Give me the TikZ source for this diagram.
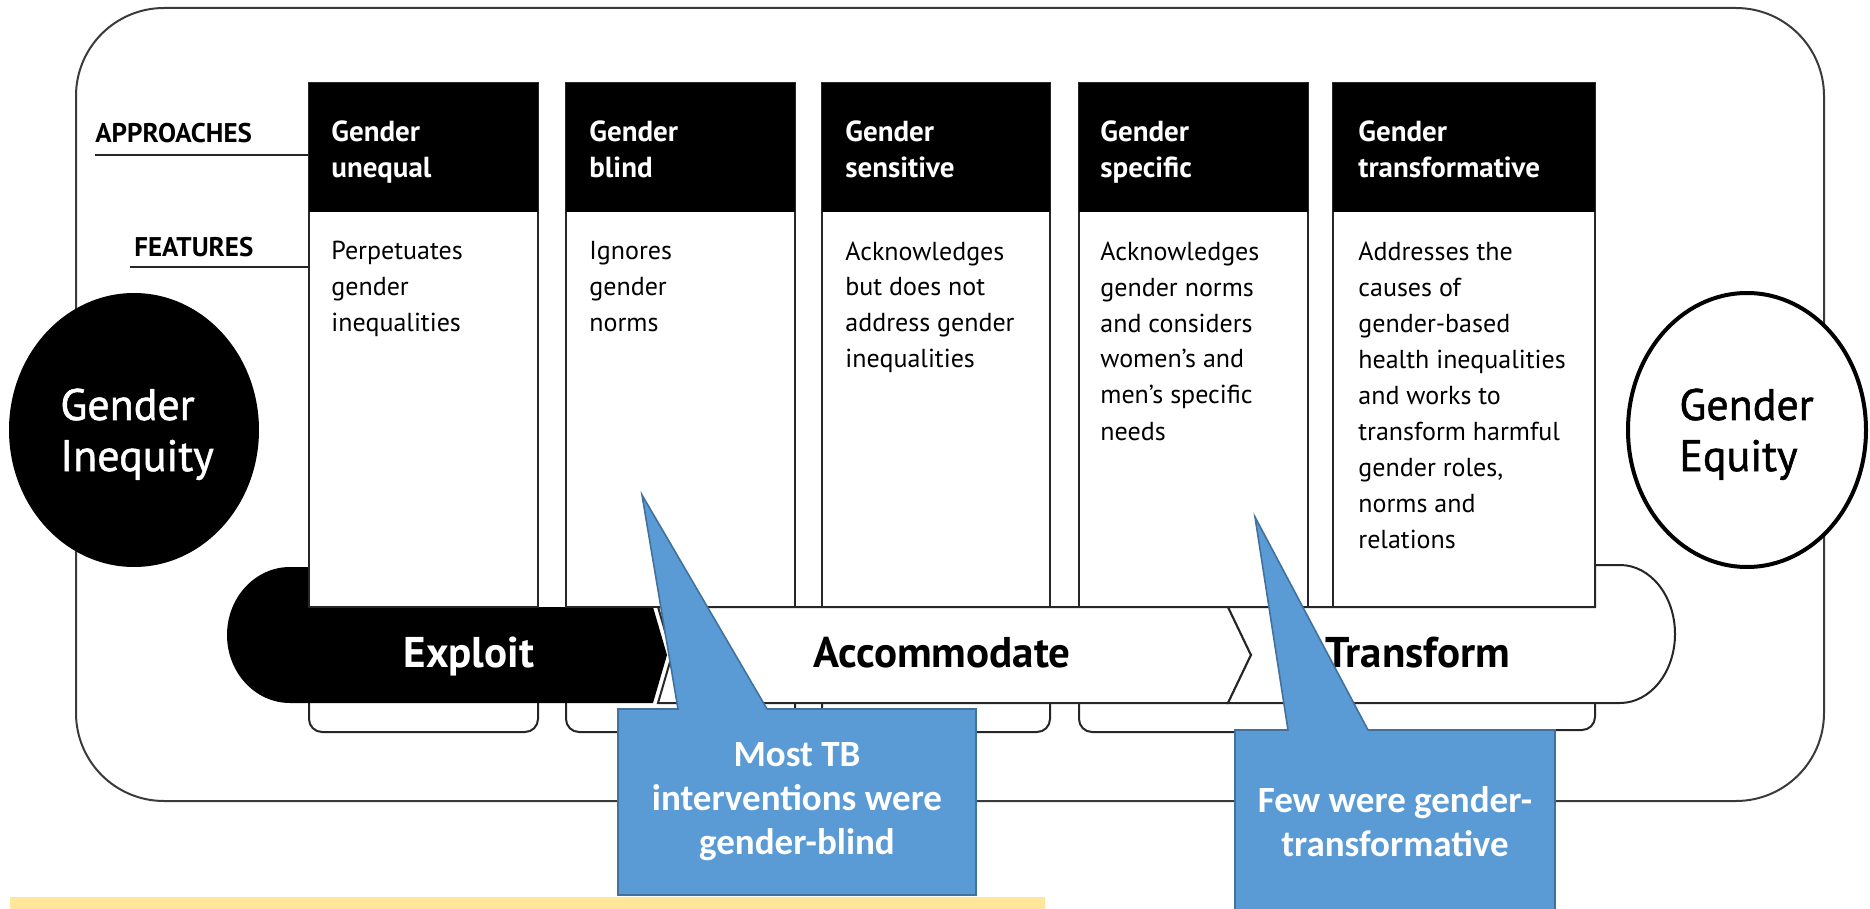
\documentclass[tikz,border=0pt]{standalone}
\usepackage{fontspec}
\setmainfont{PT Sans}
\newfontfamily\calloutfont{Carlito}
\newfontfamily\polefont[BoldFont={PT Sans}, BoldFeatures={FakeBold=1.2}]{PT Sans}
\usepackage{xcolor}
\usetikzlibrary{positioning}

\definecolor{calloutblue}{HTML}{5B9BD5}
\definecolor{calloutedge}{HTML}{41719C}
\definecolor{noteyellow}{HTML}{FFE699}
\definecolor{framegray}{HTML}{3A3A3A}

\begin{document}
\begin{tikzpicture}[x=0.5pt,y=-0.5pt]
  % multi-line nodes sit on the baseline of their last line
  \tikzset{headtext/.style={anchor=base west, align=left, inner sep=0pt,
                            text=white, font=\fontsize{14.5}{18}\selectfont\bfseries},
           bodytext/.style={anchor=base west, align=left, inner sep=0pt,
                            font=\fontsize{13}{18}\selectfont},
           sidelabel/.style={anchor=base west, inner sep=0pt,
                             font=\fontsize{13.5}{16}\selectfont\bfseries},
           bandtext/.style={anchor=base, inner sep=0pt,
                            font=\fontsize{21.5}{24}\selectfont\bfseries},
           poletext/.style={anchor=base west, align=left, inner sep=0pt,
                            font=\polefont\fontsize{22}{25.5}\selectfont\bfseries},
           callouttext/.style={align=center, inner sep=0pt, text=white,
                               font=\calloutfont\fontsize{18.5}{22}\selectfont\bfseries},
           colline/.style={line width=1pt, draw=black!85},
           tabline/.style={line width=1pt, draw=black!85, rounded corners=6.5pt},
           callout/.style={fill=calloutblue, draw=calloutedge, line width=0.8pt}}
  \useasboundingbox (0,0) rectangle (1870,909);

% frame
\draw[framegray, line width=1pt, rounded corners=44pt] (76,8) rectangle (1824,801);

% poles
\fill[black] (134,430) ellipse [x radius=125, y radius=137];
\node[poletext, text=white] (inequity) at (60,471) {Gender\\Inequity};
\draw[fill=white, line width=2pt] (1747,430) ellipse [x radius=119, y radius=137];
\node[poletext] (equity) at (1679,471) {Gender\\Equity};

% side labels
\node[sidelabel] (appr) at (95,143) {APPROACHES};
\node[sidelabel] (feat) at (134,257) {FEATURES};
\coordinate (c1a) at (309,155);
\coordinate (c1b) at (309,267);
\draw[colline] ([yshift=-6pt]appr.base west) -- (c1a);
\draw[colline] ([xshift=-2pt,yshift=-5pt]feat.base west) -- (c1b);

% tabs under the band
\draw[tabline] (309,650) -- (309,732) -- (538,732) -- (538,650);
\draw[tabline] (566,650) -- (566,732) -- (795,732) -- (795,650);
\draw[tabline] (822,650) -- (822,732) -- (1050,732) -- (1050,650);
\draw[tabline] (1079,650) -- (1079,732) -- (1308,732) -- (1308,650);
\draw[tabline] (1333,650) -- (1333,730) -- (1595,730) -- (1595,650);

% band: exploit
\fill[black] (310,567) -- (290,567) arc[start angle=270, end angle=90, x radius=63, y radius=68]
  -- (653,703) -- (667,655) -- (653,607) -- (310,607) -- cycle;
% band: accommodate
\draw[colline, fill=white] (658,607) -- (672,655) -- (658,703) -- (1228,703) -- (1251,655)
  -- (1228,607) -- cycle;
% band: transform
\draw[colline, fill=white] (1228,607) -- (1251,655) -- (1228,703) -- (1620,703)
  arc[start angle=90, end angle=-90, x radius=55, y radius=69] -- (1595,565) -- (1595,607) -- cycle;

% column 1
\draw[colline, fill=white] (309,83) rectangle (538,607);
\fill[black] (309,83) rectangle (538,212);
\node[headtext] (h1) at (331,178) {Gender\\unequal};
\node[bodytext] (f1) at (331,332) {Perpetuates\\gender\\inequalities};

% column 2
\draw[colline, fill=white] (566,83) rectangle (795,607);
\fill[black] (566,83) rectangle (795,212);
\node[headtext] (h2) at (589,178) {Gender\\blind};
\node[bodytext] (f2) at (589,332) {Ignores\\gender\\norms};

% column 3
\draw[colline, fill=white] (822,83) rectangle (1050,607);
\fill[black] (822,83) rectangle (1050,212);
\node[headtext] (h3) at (845,178) {Gender\\sensitive};
\node[bodytext] (f3) at (845,368) {Acknowledges\\but does not\\address gender\\inequalities};

% column 4
\draw[colline, fill=white] (1079,83) rectangle (1308,607);
\fill[black] (1079,83) rectangle (1308,212);
\node[headtext] (h4) at (1100,178) {Gender\\specific};
\node[bodytext] (f4) at (1100,440) {Acknowledges\\gender norms\\and considers\\women’s and\\men’s specific\\needs};

% column 5
\draw[colline, fill=white] (1333,83) rectangle (1595,607);
\fill[black] (1333,83) rectangle (1595,212);
\node[headtext] (h5) at (1358,178) {Gender\\transformative};
\node[bodytext] (f5) at (1358,548) {Addresses the\\causes of\\gender-based\\health inequalities\\and works to\\transform harmful\\gender roles,\\norms and\\relations};

% band labels
\node[bandtext, text=white] (exploit) at (469,667) {Exploit};
\node[bandtext] (accommodate) at (942,667) {Accommodate};
\node[bandtext] (transform) at (1418,667) {Transform};

% callouts
\draw[callout] (618,709) -- (678,709) -- (642,495) -- (767,709) -- (976,709) -- (976,895)
  -- (618,895) -- cycle;
\node[callouttext] (blindnote) at (797,802) {Most TB\\interventions were\\gender-blind};
\draw[callout] (1235,730) -- (1288,730) -- (1255,517) -- (1368,730) -- (1555,730) -- (1555,918)
  -- (1235,918) -- cycle;
\node[callouttext] (transnote) at (1395,822) {Few were gender-\\transformative};

% note bar
\fill[noteyellow] (10,897) rectangle (1045,912);

\end{tikzpicture}
\end{document}
